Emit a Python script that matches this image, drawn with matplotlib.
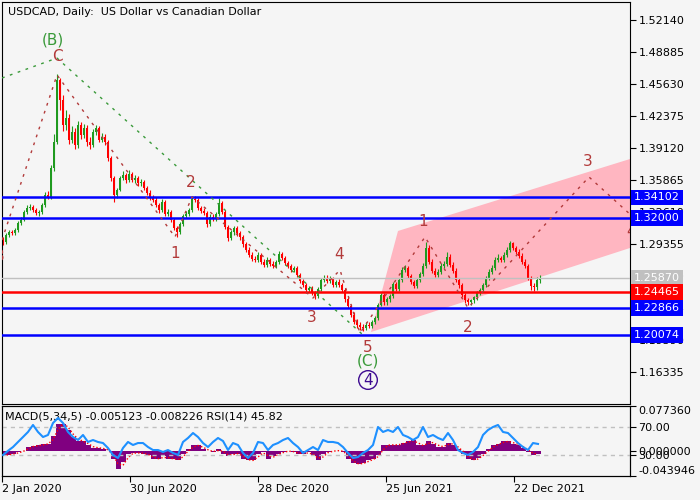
import numpy as np
import pandas as pd
import matplotlib
matplotlib.use("Agg")
import matplotlib.pyplot as plt
from matplotlib import transforms

# candles, one per 3 daily bars (Jan 2020 - Jan 2022)
closes = [
    1.2956, 1.3027, 1.3058, 1.3047, 1.3078, 1.3149, 1.3180, 1.3261, 1.3302, 1.3312,
    1.3281, 1.3251, 1.3261, 1.3332, 1.3434, 1.3414, 1.3709, 1.3973, 1.4600, 1.4400,
    1.4146, 1.4217, 1.3993, 1.4075, 1.3943, 1.4146, 1.4044, 1.4115, 1.3973, 1.3943,
    1.4075, 1.4115, 1.3993, 1.4024, 1.3973, 1.3810, 1.3607, 1.3434, 1.3485, 1.3607,
    1.3637, 1.3587, 1.3648, 1.3587, 1.3607, 1.3556, 1.3566, 1.3505, 1.3454, 1.3403,
    1.3383, 1.3332, 1.3281, 1.3363, 1.3241, 1.3261, 1.3180, 1.3098, 1.3058, 1.3139,
    1.3220, 1.3241, 1.3281, 1.3393, 1.3383, 1.3302, 1.3271, 1.3251, 1.3139, 1.3210,
    1.3190, 1.3241, 1.3353, 1.3261, 1.3108, 1.2997, 1.3058, 1.3098, 1.3047, 1.3007,
    1.2936, 1.2874, 1.2824, 1.2783, 1.2773, 1.2824, 1.2752, 1.2722, 1.2773, 1.2732,
    1.2712, 1.2752, 1.2834, 1.2793, 1.2742, 1.2712, 1.2671, 1.2691, 1.2620, 1.2559,
    1.2518, 1.2468, 1.2488, 1.2437, 1.2407, 1.2478, 1.2569, 1.2590, 1.2559, 1.2580,
    1.2518, 1.2549, 1.2518, 1.2468, 1.2376, 1.2305, 1.2213, 1.2142, 1.2112, 1.2091,
    1.2081, 1.2112, 1.2101, 1.2142, 1.2183, 1.2315, 1.2417, 1.2346, 1.2376, 1.2407,
    1.2529, 1.2478, 1.2569, 1.2671, 1.2691, 1.2610, 1.2549, 1.2508, 1.2569, 1.2630,
    1.2712, 1.2895, 1.2752, 1.2661, 1.2620, 1.2651, 1.2712, 1.2732, 1.2803, 1.2722,
    1.2661, 1.2569, 1.2518, 1.2417, 1.2366, 1.2346, 1.2366, 1.2396, 1.2437, 1.2468,
    1.2518, 1.2590, 1.2651, 1.2691, 1.2773, 1.2793, 1.2773, 1.2824, 1.2874, 1.2946,
    1.2895, 1.2854, 1.2813, 1.2752, 1.2712, 1.2590, 1.2508, 1.2498, 1.2569, 1.2587,
]
highs = [
    1.3010, 1.3045, 1.3080, 1.3075, 1.3100, 1.3165, 1.3210, 1.3280, 1.3330, 1.3340,
    1.3335, 1.3300, 1.3285, 1.3350, 1.3460, 1.3470, 1.3740, 1.4050, 1.4660, 1.4620,
    1.4450, 1.4300, 1.4260, 1.4140, 1.4120, 1.4190, 1.4180, 1.4160, 1.4150, 1.4020,
    1.4110, 1.4150, 1.4140, 1.4060, 1.4050, 1.3990, 1.3830, 1.3630, 1.3510, 1.3630,
    1.3680, 1.3660, 1.3690, 1.3670, 1.3640, 1.3630, 1.3600, 1.3590, 1.3530, 1.3480,
    1.3430, 1.3410, 1.3350, 1.3390, 1.3380, 1.3290, 1.3280, 1.3200, 1.3120, 1.3160,
    1.3240, 1.3270, 1.3300, 1.3420, 1.3420, 1.3400, 1.3320, 1.3300, 1.3270, 1.3240,
    1.3240, 1.3260, 1.3400, 1.3370, 1.3280, 1.3130, 1.3080, 1.3120, 1.3120, 1.3070,
    1.3030, 1.2960, 1.2900, 1.2850, 1.2810, 1.2850, 1.2840, 1.2780, 1.2800, 1.2790,
    1.2760, 1.2770, 1.2860, 1.2850, 1.2810, 1.2760, 1.2730, 1.2710, 1.2710, 1.2640,
    1.2580, 1.2540, 1.2510, 1.2510, 1.2460, 1.2500, 1.2590, 1.2620, 1.2620, 1.2610,
    1.2600, 1.2570, 1.2580, 1.2540, 1.2490, 1.2400, 1.2330, 1.2240, 1.2170, 1.2140,
    1.2120, 1.2140, 1.2140, 1.2160, 1.2200, 1.2340, 1.2440, 1.2440, 1.2400, 1.2430,
    1.2550, 1.2550, 1.2590, 1.2700, 1.2720, 1.2710, 1.2630, 1.2570, 1.2590, 1.2650,
    1.2740, 1.2960, 1.2930, 1.2780, 1.2690, 1.2680, 1.2740, 1.2760, 1.2850, 1.2830,
    1.2750, 1.2690, 1.2590, 1.2540, 1.2440, 1.2390, 1.2380, 1.2410, 1.2460, 1.2490,
    1.2540, 1.2610, 1.2680, 1.2720, 1.2800, 1.2830, 1.2810, 1.2850, 1.2900, 1.2970,
    1.2960, 1.2920, 1.2880, 1.2840, 1.2780, 1.2730, 1.2610, 1.2540, 1.2600, 1.2620,
]
lows = [
    1.2930, 1.2940, 1.3005, 1.3025, 1.3030, 1.3060, 1.3130, 1.3165, 1.3240, 1.3285,
    1.3260, 1.3230, 1.3225, 1.3240, 1.3310, 1.3390, 1.3390, 1.3680, 1.3950, 1.4300,
    1.4080, 1.4100, 1.3950, 1.3960, 1.3900, 1.3910, 1.4000, 1.4010, 1.3930, 1.3900,
    1.3920, 1.4040, 1.3970, 1.3970, 1.3940, 1.3780, 1.3580, 1.3360, 1.3400, 1.3470,
    1.3590, 1.3560, 1.3570, 1.3570, 1.3560, 1.3530, 1.3530, 1.3480, 1.3430, 1.3380,
    1.3360, 1.3310, 1.3250, 1.3260, 1.3220, 1.3220, 1.3160, 1.3080, 1.3010, 1.3040,
    1.3120, 1.3200, 1.3220, 1.3260, 1.3360, 1.3280, 1.3250, 1.3230, 1.3110, 1.3120,
    1.3170, 1.3170, 1.3220, 1.3240, 1.3090, 1.2970, 1.2980, 1.3030, 1.3020, 1.2980,
    1.2910, 1.2850, 1.2800, 1.2760, 1.2750, 1.2750, 1.2730, 1.2700, 1.2700, 1.2710,
    1.2690, 1.2690, 1.2730, 1.2770, 1.2720, 1.2690, 1.2650, 1.2650, 1.2600, 1.2540,
    1.2500, 1.2440, 1.2450, 1.2420, 1.2380, 1.2390, 1.2460, 1.2550, 1.2540, 1.2540,
    1.2500, 1.2500, 1.2500, 1.2450, 1.2350, 1.2280, 1.2190, 1.2120, 1.2080, 1.2060,
    1.2050, 1.2060, 1.2080, 1.2080, 1.2120, 1.2160, 1.2300, 1.2320, 1.2320, 1.2350,
    1.2390, 1.2460, 1.2460, 1.2550, 1.2650, 1.2590, 1.2530, 1.2490, 1.2490, 1.2550,
    1.2610, 1.2690, 1.2730, 1.2640, 1.2600, 1.2600, 1.2630, 1.2690, 1.2710, 1.2700,
    1.2640, 1.2550, 1.2490, 1.2400, 1.2340, 1.2310, 1.2320, 1.2340, 1.2370, 1.2420,
    1.2450, 1.2500, 1.2570, 1.2630, 1.2670, 1.2750, 1.2750, 1.2750, 1.2800, 1.2850,
    1.2870, 1.2830, 1.2790, 1.2730, 1.2690, 1.2570, 1.2470, 1.2460, 1.2470, 1.2540,
]
first_open = 1.2990

# indicators sampled every 5 bars
rsi = [
    30.0, 36.0, 41.4, 48.6, 55.7, 62.9, 72.9, 62.9, 55.7, 58.6,
    75.7, 82.9, 75.7, 62.9, 55.7, 51.4, 58.6, 48.6, 51.4, 48.6,
    47.1, 40.0, 30.0, 25.7, 40.0, 48.6, 44.3, 47.1, 47.1, 41.4,
    37.1, 37.1, 34.3, 37.1, 32.9, 30.0, 48.6, 54.3, 61.4, 55.7,
    47.1, 41.4, 48.6, 54.3, 50.0, 37.1, 47.1, 44.3, 32.9, 25.7,
    32.9, 48.6, 47.1, 37.1, 44.3, 47.1, 51.4, 54.3, 47.1, 41.4,
    32.9, 37.1, 41.4, 37.1, 51.4, 48.6, 48.6, 47.1, 41.4, 32.9,
    25.7, 27.1, 32.9, 37.1, 44.3, 70.0, 62.9, 65.7, 62.9, 70.0,
    58.6, 55.7, 51.4, 55.7, 70.0, 55.7, 58.6, 54.3, 51.4, 61.4,
    51.4, 37.1, 32.9, 30.0, 34.3, 41.4, 58.6, 65.7, 70.0, 72.9,
    62.9, 61.4, 54.3, 47.1, 41.4, 37.1, 47.1, 45.8,
]
macd = [
    -0.008, -0.007, -0.005, -0.003, 0.000, 0.006, 0.008, 0.009, 0.011, 0.012,
    0.026, 0.047, 0.047, 0.035, 0.023, 0.017, 0.016, 0.009, 0.005, 0.005,
    0.003, 0.000, -0.015, -0.031, -0.020, -0.005, -0.004, -0.004, -0.005, -0.008,
    -0.014, -0.014, -0.010, -0.014, -0.014, -0.017, -0.005, 0.003, 0.009, 0.009,
    0.003, 0.000, -0.003, 0.003, -0.005, -0.009, -0.005, -0.005, -0.014, -0.017,
    -0.017, -0.005, -0.003, -0.014, -0.009, -0.005, -0.002, 0.000, -0.003, -0.005,
    -0.005, -0.003, -0.009, -0.017, -0.005, -0.002, 0.000, 0.000, -0.002, -0.014,
    -0.021, -0.024, -0.021, -0.017, -0.014, -0.007, 0.009, 0.010, 0.010, 0.010,
    0.014, 0.016, 0.018, 0.009, 0.009, 0.016, 0.012, 0.007, 0.007, 0.014,
    0.010, 0.003, -0.005, -0.014, -0.017, -0.012, -0.005, 0.003, 0.009, 0.012,
    0.016, 0.016, 0.012, 0.009, 0.005, -0.002, -0.007, -0.005,
]

# horizontal levels and their colours
levels = [1.34102, 1.32000, 1.25870, 1.24465, 1.22866, 1.20074]
level_colors = ['#0000ff', '#0000ff', '#c0c0c0', '#ff0000', '#0000ff', '#0000ff']

price_ticks = [1.52140, 1.48885, 1.45630, 1.42375, 1.39120, 1.35865,
               1.32610, 1.29355, 1.26100, 1.22845, 1.19590, 1.16335]
date_ticks = [0, 128, 256, 384, 512]
date_labels = ['2 Jan 2020', '30 Jun 2020', '28 Dec 2020', '25 Jun 2021', '22 Dec 2021']

# elliott wave paths (bar index, price)
major_bars = [0, 55, 360]
major_prices = [1.4624, 1.4827, 1.2020]
minor_bars = [0, 55, 173, 190, 311, 338, 358, 423, 466, 587, 630]
minor_prices = [1.2976, 1.4655, 1.3007, 1.3414, 1.2386, 1.2671, 1.2030,
                1.3007, 1.2285, 1.3617, 1.3220]
channel_bars = [369, 396, 628, 628]
channel_prices = [1.2040, 1.3068, 1.3800, 1.2895]

minor_labels = ['3', '1', '2', '3', '4', '5', '1', '2', '3', '4']
minor_label_bars = [-2, 173, 189, 310, 337, 366, 421, 466, 586, 629]
minor_label_prices = [1.2813, 1.2834, 1.3566, 1.2183, 1.2824, 1.1878,
                      1.3169, 1.2081, 1.3770, 1.3058]

BG = '#f5f5f5'
GREEN = '#1f9a1f'
RED = '#ff0000'
WAVE = '#b23a3a'
WAVE_GREEN = '#3a9a3a'

fig = plt.figure(figsize=(7, 5), dpi=100, facecolor=BG)
ax = fig.add_axes([2/700, 96/500, 628/700, 402/500], facecolor=BG)
ax2 = fig.add_axes([2/700, 24/500, 628/700, 70/500], facecolor=BG)
ax3 = ax2.twinx()

# ---- price panel
closes = np.array(closes)
opens = np.concatenate([[first_open], closes[:-1]])
xc = 1 + 3 * np.arange(len(closes))
cols = [GREEN if c >= o else RED for o, c in zip(opens, closes)]
ax.fill(channel_bars, channel_prices, color='#ffb6c1', lw=0, zorder=0.5)
ax.vlines(xc, lows, highs, colors=cols, lw=0.8, zorder=2)
ax.bar(xc, closes - opens, bottom=opens, width=2.2, color=cols, linewidth=0, zorder=2)

for lv, c in zip(levels, level_colors):
    ax.axhline(lv, color=c, lw=1.0 if c == '#c0c0c0' else 1.8, zorder=3)

ax.plot(major_bars, major_prices, color=WAVE_GREEN, lw=1, ls=(0, (2, 4)), zorder=4)
ax.plot(minor_bars, minor_prices, color=WAVE, lw=1, ls=(0, (2, 4)), zorder=4)

for t, b, p in zip(minor_labels, minor_label_bars, minor_label_prices):
    ax.text(b, p, t, color=WAVE, fontsize=11, ha='center', va='center', clip_on=True, zorder=5)
ax.text(55, 1.4845, 'C', color=WAVE, fontsize=11, ha='center', va='center', zorder=5)
ax.text(51, 1.5011, '(B)', color=WAVE_GREEN, fontsize=11, ha='center', va='center', zorder=5)
ax.text(366, 1.1745, '(C)', color=WAVE_GREEN, fontsize=11, ha='center', va='center', zorder=5)
ax.text(366, 1.1552, '4', color='#3d0a91', fontsize=11, ha='center', va='center', zorder=5,
        bbox=dict(boxstyle='circle,pad=0.12', fc='none', ec='#3d0a91', lw=1))

ax.text(0.0096, 0.975, 'USDCAD, Daily:  US Dollar vs Canadian Dollar', transform=ax.transAxes,
        fontsize=8, ha='left', va='center')

ax.set_xlim(0, 628)
ax.set_ylim(1.13079, 1.53971)
ax.set_xticks([])
ax.yaxis.tick_right()
ax.set_yticks(price_ticks)
ax.set_yticklabels(['%.5f' % v for v in price_ticks])
ax.tick_params(axis='y', length=4, pad=2, labelsize=8, colors='black')

trans = transforms.blended_transform_factory(ax.transAxes, ax.transData)
for lv, c in zip(levels, level_colors):
    ax.text(1.0064, lv, '%.5f' % lv, transform=trans, color='white', fontsize=8,
            ha='left', va='center', clip_on=False, zorder=6,
            bbox=dict(boxstyle='square,pad=0.25', fc=c, ec='none'))

# ---- MACD / RSI panel
xi = 1 + 5 * np.arange(len(macd))
signal = pd.Series(macd).rolling(2, min_periods=1).mean()
ax2.bar(xi, macd, width=5.0, color='#800080', linewidth=0, zorder=2)
ax2.plot(xi, signal, color=RED, lw=1, ls=(0, (1, 1.5)), zorder=3)
ax2.set_xlim(0, 628)
ax2.set_ylim(-0.043946, 0.077360)
ax2.yaxis.tick_right()
ax2.set_yticks([0.077360, 0.0, -0.043946])
ax2.set_yticklabels(['0.077360', '0.000000', '-0.043946'])
ax2.tick_params(axis='y', left=False, labelleft=False, right=True, labelright=True,
                length=4, pad=2, labelsize=8)
ylabs = ax2.get_yticklabels()
ylabs[0].set_va('top')
ylabs[2].set_va('bottom')
ax2.set_xticks(date_ticks)
ax2.set_xticklabels(date_labels, ha='left')
ax2.tick_params(axis='x', length=4, pad=2, labelsize=8)

ax3.set_ylim(0, 100)
ax3.axhline(70, color='#c0c0c0', lw=1, ls=(0, (3, 3)), zorder=1)
ax3.axhline(30, color='#c0c0c0', lw=1, ls=(0, (3, 3)), zorder=1)
ax3.plot(xi, rsi, color='#1e90ff', lw=1.5, zorder=4)
ax3.set_yticks([70, 30])
ax3.set_yticklabels(['70.00', '30.00'])
ax3.tick_params(axis='y', length=4, pad=2, labelsize=8)

ax2.text(3/628, 0.857, 'MACD(5,34,5) -0.005123 -0.008226 RSI(14) 45.82', transform=ax2.transAxes,
         fontsize=8, ha='left', va='center', zorder=6)

for a in (ax, ax2, ax3):
    for s in a.spines.values():
        s.set_linewidth(0.8)
        s.set_color('black')

fig.savefig('out.png', dpi=100, facecolor=BG)
